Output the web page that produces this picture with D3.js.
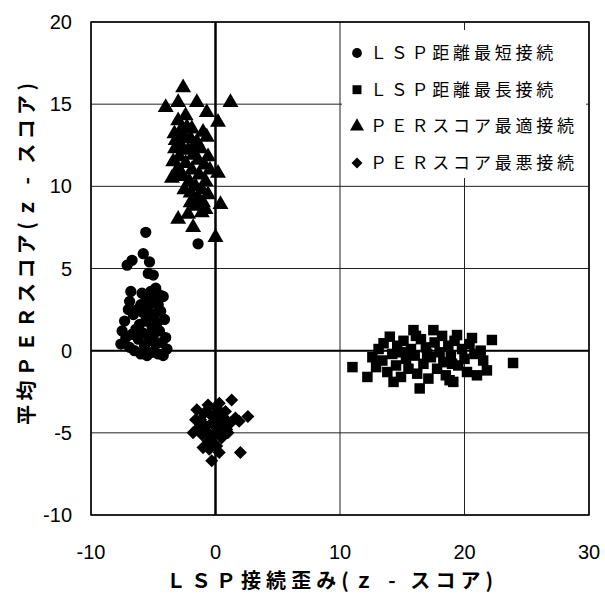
<!DOCTYPE html>
<html>
<head>
<meta charset="utf-8">
<script src="https://cdn.jsdelivr.net/npm/d3@7"></script>
<style>
  body { margin: 0; background: #fff; }
  svg text { fill: #000; }
</style>
</head>
<body>
<div id="chart"></div>
<script>
// tick values for both axes
var xTicks = [-10, 0, 10, 20, 30];
var yTicks = [-10, -5, 0, 5, 10, 15, 20];

// series labels (legend order)
var seriesNames = [
  "ＬＳＰ距離最短接続",
  "ＬＳＰ距離最長接続",
  "ＰＥＲスコア最適接続",
  "ＰＥＲスコア最悪接続"
];

// LSP shortest connection (circles)
var shortest = [
  [-5.6, 7.2], [-1.4, 6.5], [-5.8, 5.9], [-6.7, 5.5], [-7.1, 5.2], [-5.3, 5.4], [-5.4, 4.7], [-5.0, 4.6],
  [-6.8, 3.6], [-6.9, 3.0], [-7.0, 2.5], [-6.6, 2.2], [-7.3, 1.8], [-7.5, 1.2], [-7.2, 0.8], [-7.6, 0.4], [-6.9, 0.2],
  [-5.9, 3.5], [-5.6, 3.3], [-5.2, 3.6], [-4.5, 3.4], [-4.2, 3.3], [-4.6, 2.8], [-5.0, 2.9], [-5.4, 2.7], [-6.0, 2.8], [-6.3, 2.5],
  [-5.8, 2.3], [-5.3, 2.1], [-4.9, 2.2], [-4.4, 2.4], [-4.1, 1.9], [-4.7, 1.7], [-5.1, 1.5], [-5.6, 1.8], [-6.1, 1.6], [-6.4, 1.3],
  [-5.9, 1.1], [-5.5, 1.0], [-5.0, 0.9], [-4.5, 1.2], [-4.0, 0.8], [-4.3, 0.5], [-4.8, 0.4], [-5.3, 0.6], [-5.7, 0.3], [-6.2, 0.7],
  [-6.5, 0.0], [-6.0, -0.2], [-5.5, -0.3], [-5.1, -0.1], [-4.6, -0.2], [-4.2, -0.3], [-3.9, 0.1], [-6.7, 1.0], [-5.2, 3.1], [-4.8, 3.8]
];

// LSP longest connection (squares)
var longest = [
  [11.0, -1.0], [23.9, -0.75], [22.2, 0.65], [12.2, -1.6], [12.6, -0.4], [12.9, -1.0], [13.5, 0.45], [13.4, -0.6], [13.8, -1.3],
  [14.0, 0.85], [14.2, -0.2], [14.5, -0.9], [14.6, 0.3], [14.9, -1.6], [15.1, 0.6], [15.3, -0.5], [15.5, -1.1], [15.7, 0.1],
  [15.9, 1.25], [16.0, -0.3], [16.2, -1.4], [16.4, -2.3], [16.5, 0.7], [16.7, -0.8], [16.9, 0.2], [17.1, -1.7], [17.3, -0.4],
  [17.5, 1.25], [17.6, 0.5], [17.8, -1.1], [18.0, -0.1], [18.2, 0.9], [18.3, -0.7], [18.5, -1.5], [18.7, 0.3], [18.9, -0.3],
  [19.1, -1.9], [19.2, 0.6], [19.4, 0.95], [19.5, -0.9], [19.8, 0.1], [20.0, -0.5], [20.2, -1.3], [20.4, 0.4], [20.6, 0.77],
  [20.8, -0.2], [21.0, -1.5], [21.3, 0.0], [21.5, -0.6], [21.8, -1.2], [13.1, 0.1], [15.0, -0.1], [17.0, -0.2], [19.0, -0.8],
  [16.1, 0.9], [14.3, -1.9], [18.8, -1.8]
];

// PER score best connection (triangles)
var best = [
  [-2.6, 16.0], [-4.0, 14.8], [-3.0, 15.1], [-1.5, 15.1], [1.2, 15.1], [-0.7, 14.5], [0.2, 13.9], [-3.0, 14.0], [-2.3, 13.6],
  [-2.8, 13.4], [-1.9, 13.5], [-1.0, 13.3], [-0.7, 13.0], [-2.5, 13.0], [-3.2, 12.8], [-2.0, 12.9], [-1.5, 12.7], [-3.25, 12.3],
  [-2.7, 12.4], [-2.2, 12.2], [-1.2, 12.3], [-1.8, 11.9], [-2.9, 11.8], [-3.4, 11.5], [-0.6, 11.8], [-1.4, 11.6], [-2.4, 11.4],
  [-0.9, 11.3], [-3.0, 11.1], [-1.9, 11.0], [-0.45, 11.0], [-3.1, 10.6], [-3.5, 10.5], [-2.6, 10.6], [-1.3, 10.7], [0.2, 10.8],
  [-2.1, 10.3], [-0.8, 10.3], [-1.6, 10.0], [-1.1, 9.8], [-2.0, 9.6], [-0.6, 9.5], [-1.4, 9.3], [-2.0, 9.0], [-1.0, 9.0],
  [0.4, 8.9], [-0.8, 8.6], [-1.1, 8.4], [-2.2, 8.3], [-3.0, 8.0], [-1.8, 7.5], [0.0, 6.9], [-1.6, 8.8], [-2.5, 9.8],
  [-1.7, 12.5], [-2.4, 14.3], [-3.3, 13.2]
];

// PER score worst connection (diamonds)
var worst = [
  [1.3, -3.0], [2.6, -4.0], [2.0, -6.2], [-0.3, -6.7], [-1.0, -5.9], [-1.8, -5.0], [-1.5, -3.6], [-0.6, -3.3], [0.8, -3.7],
  [0.9, -4.8], [-1.2, -4.2], [-0.8, -4.6], [-0.4, -3.9], [0.0, -4.3], [0.4, -4.0], [0.2, -4.8], [-0.2, -5.2], [-0.6, -5.5],
  [0.5, -5.3], [1.2, -4.4], [1.6, -4.1], [-1.4, -4.7], [-0.9, -3.8], [0.1, -3.5], [-0.3, -4.4], [0.6, -4.5], [-0.5, -6.0],
  [0.1, -5.8], [-1.1, -5.1], [0.3, -6.2], [1.0, -5.0], [-0.1, -4.0], [-0.7, -4.9], [0.7, -4.1], [1.9, -4.3], [-1.6, -4.2],
  [0.3, -3.2], [-0.2, -5.6]
];

var seriesData = [shortest, longest, best, worst];
// diamonds are squares turned 45 degrees, like the spreadsheet marker
var symbolTypes = [d3.symbolCircle, d3.symbolSquare, d3.symbolTriangle, d3.symbolSquare];
var symbolSizes = [100, 110, 110, 85];
var legendSizes = [75, 80, 85, 60];
var symbolRotate = [0, 0, 0, 45];

// dimensions
var W = 605, H = 595;
var margin = { top: 22, right: 16, bottom: 80, left: 91 };
var width = W - margin.left - margin.right,
    height = H - margin.top - margin.bottom;

var x = d3.scaleLinear().domain([-10, 30]).range([0, width]);
var y = d3.scaleLinear().domain([-10, 20]).range([height, 0]);

var svg = d3.select("#chart").append("svg")
  .attr("width", W)
  .attr("height", H);

var g = svg.append("g")
  .attr("transform", "translate(" + margin.left + "," + margin.top + ")");

// gridlines
g.append("g")
  .attr("class", "grid")
  .selectAll("line.h")
  .data(yTicks)
  .enter().append("line")
  .attr("x1", 0).attr("x2", width)
  .attr("y1", function (d) { return y(d); })
  .attr("y2", function (d) { return y(d); })
  .style("stroke", "#222")
  .style("stroke-width", 1);

g.append("g")
  .attr("class", "grid")
  .selectAll("line.v")
  .data(xTicks)
  .enter().append("line")
  .attr("y1", 0).attr("y2", height)
  .attr("x1", function (d) { return x(d); })
  .attr("x2", function (d) { return x(d); })
  .style("stroke", "#222")
  .style("stroke-width", 1);

// zero axes (thicker)
g.append("line")
  .attr("x1", 0).attr("x2", width)
  .attr("y1", y(0)).attr("y2", y(0))
  .style("stroke", "#000").style("stroke-width", 2);
g.append("line")
  .attr("y1", 0).attr("y2", height)
  .attr("x1", x(0)).attr("x2", x(0))
  .style("stroke", "#000").style("stroke-width", 2.5);

// markers
seriesData.forEach(function (data, i) {
  var sym = d3.symbol().type(symbolTypes[i]).size(symbolSizes[i]);
  g.append("g")
    .selectAll("path")
    .data(data)
    .enter().append("path")
    .attr("d", sym)
    .attr("transform", function (d) {
      return "translate(" + x(d[0]) + "," + y(d[1]) + ") rotate(" + symbolRotate[i] + ")";
    })
    .style("fill", "#000");
});

// legend box
var legend = g.append("g")
  .attr("transform", "translate(" + (x(10) + 2) + ",8)");
legend.append("rect")
  .attr("width", 244)
  .attr("height", 148)
  .style("fill", "#fff");

seriesNames.forEach(function (name, i) {
  var row = legend.append("g")
    .attr("transform", "translate(0," + (23 + i * 36.7) + ")");
  row.append("path")
    .attr("d", d3.symbol().type(symbolTypes[i]).size(legendSizes[i]))
    .attr("transform", "translate(15,0) rotate(" + symbolRotate[i] + ")")
    .style("fill", "#000");
  row.append("text")
    .attr("x", 28)
    .attr("y", 6)
    .attr("textLength", name.length * 20.8 - 4)
    .attr("lengthAdjust", "spacing")
    .style("font-family", "'Noto Sans CJK JP', sans-serif")
    .style("font-size", "17px")
    .text(name);
});

// plot border
g.append("rect")
  .attr("width", width)
  .attr("height", height)
  .style("fill", "none")
  .style("stroke", "#000")
  .style("stroke-width", 1.5);

// tick labels
g.selectAll("text.ylab")
  .data(yTicks)
  .enter().append("text")
  .attr("class", "ylab")
  .attr("x", -19)
  .attr("y", function (d) { return y(d); })
  .attr("dy", "0.35em")
  .style("text-anchor", "end")
  .style("font-family", "'Liberation Sans', Arial, sans-serif")
  .style("font-size", "20px")
  .text(function (d) { return d; });

g.selectAll("text.xlab")
  .data(xTicks)
  .enter().append("text")
  .attr("class", "xlab")
  .attr("x", function (d) { return x(d); })
  .attr("y", height + 44)
  .style("text-anchor", "middle")
  .style("font-family", "'Liberation Sans', Arial, sans-serif")
  .style("font-size", "20px")
  .text(function (d) { return d; });

// axis titles
svg.append("text")
  .attr("x", 166)
  .attr("y", 588)
  .attr("textLength", 327)
  .attr("lengthAdjust", "spacing")
  .style("font-family", "'Noto Sans CJK JP', sans-serif")
  .style("font-weight", "bold")
  .style("font-size", "20px")
  .text("ＬＳＰ接続歪み(ｚ - スコア)");

svg.append("text")
  .attr("transform", "translate(34,425) rotate(-90)")
  .attr("x", 0)
  .attr("y", 0)
  .attr("textLength", 342)
  .attr("lengthAdjust", "spacing")
  .style("font-family", "'Noto Sans CJK JP', sans-serif")
  .style("font-weight", "bold")
  .style("font-size", "20px")
  .text("平均ＰＥＲスコア(ｚ - スコア)");
</script>
</body>
</html>
